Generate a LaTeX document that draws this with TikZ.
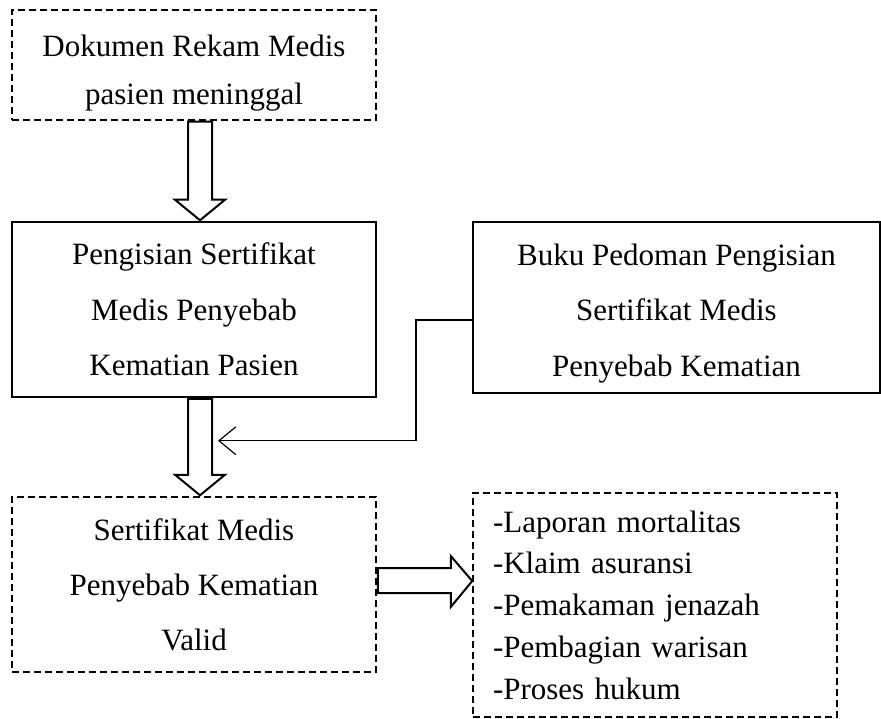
\documentclass[tikz,border=0pt]{standalone}
\usepackage{fontspec}
\setmainfont{Liberation Serif}
\usetikzlibrary{calc,arrows.meta}
\begin{document}
\begin{tikzpicture}[x=1pt,y=-1pt,
  box/.style={draw, line width=1.5pt, minimum width=364pt, align=center, inner sep=0pt},
  dbox/.style={box, dash pattern=on 7pt off 4pt},
  barrow/.style={draw, line width=2pt, fill=white, line join=miter},
  conn/.style={draw, line width=1.2pt, -{Straight Barb[length=17pt,width=28pt]}}]
\useasboundingbox (0,0) rectangle (881,719);
\node[dbox, minimum height=110pt, font=\fontsize{31}{48}\selectfont] (b1) at (194,65)
  {\rule{0pt}{38pt}Dokumen Rekam Medis\\pasien meninggal};
\node[box, minimum height=175pt, font=\fontsize{31}{55.5}\selectfont] (b2) at (194,309.5)
  {Pengisian Sertifikat\\Medis Penyebab\\Kematian Pasien};
\node[box, minimum width=407pt, minimum height=171pt, font=\fontsize{31}{55.5}\selectfont] (b3) at (676.5,307.5)
  {\rule{0pt}{33pt}Buku Pedoman Pengisian\\Sertifikat Medis\\Penyebab Kematian};
\node[dbox, minimum height=175pt, font=\fontsize{31}{55}\selectfont] (b4) at (194,584.5)
  {Sertifikat Medis\\Penyebab Kematian\\Valid};
\node[dbox, minimum height=224pt, text width=324pt, inner xsep=20pt, align=left,
  font=\fontsize{31}{41.75}\selectfont] (b5) at (655,605)
  {-Laporan mortalitas\\-Klaim asuransi\\-Pemakaman jenazah\\-Pembagian warisan\\-Proses hukum};
% block arrow b1 -> b2
\draw[barrow] ($(b1.south)+(-6,1)$) -- ($(b1.south)+(-6,79)$) -- ($(b1.south)+(-19,79)$)
  -- ($(b2.north)+(6,-1)$) -- ($(b1.south)+(31,79)$) -- ($(b1.south)+(18,79)$)
  -- ($(b1.south)+(18,1)$) -- cycle;
% block arrow b2 -> b4
\draw[barrow] ($(b2.south)+(-6,1)$) -- ($(b2.south)+(-6,77)$) -- ($(b2.south)+(-19,77)$)
  -- ($(b4.north)+(6,-1)$) -- ($(b2.south)+(31,77)$) -- ($(b2.south)+(18,77)$)
  -- ($(b2.south)+(18,1)$) -- cycle;
% block arrow b4 -> b5
\draw[barrow] ($(b4.east)+(1,-16.5)$) -- ($(b4.east)+(74,-16.5)$) -- ($(b4.east)+(74,-28.5)$)
  -- ($(b5.west)+(0,-24)$) -- ($(b4.east)+(74,22.5)$) -- ($(b4.east)+(74,8.5)$)
  -- ($(b4.east)+(1,8.5)$) -- cycle;
% connector b3 -> arrow
\draw[conn] ($(b3.west)+(0,12.5)$) -| ($(b2.south)+(222,43)$) -- ($(b2.south)+(24,43)$);
\end{tikzpicture}
\end{document}
